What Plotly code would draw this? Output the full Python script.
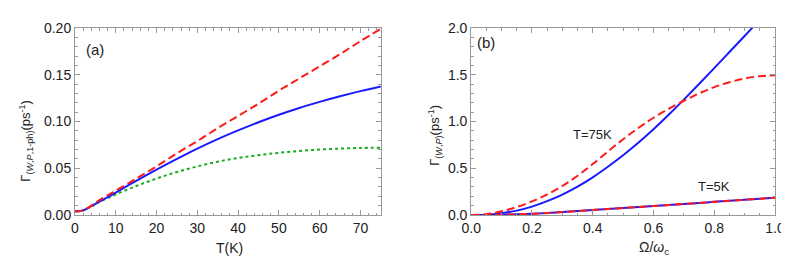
import plotly.graph_objects as go

# ---- panel (a) data ----
T_K = [0, 1, 2, 3, 4, 5, 6, 8, 10, 15, 20, 25, 30, 35, 40, 45, 50, 55, 60, 65, 70, 75]
gamma_red_a = [0.004, 0.004, 0.005, 0.007, 0.010, 0.013, 0.016, 0.021, 0.026, 0.039, 0.052, 0.066,
               0.079, 0.093, 0.106, 0.119, 0.133, 0.146, 0.159, 0.172, 0.186, 0.199]
gamma_blue_a = [0.004, 0.004, 0.005, 0.007, 0.0095, 0.012, 0.0145, 0.019, 0.024, 0.0365, 0.0485, 0.060,
                0.071, 0.0812, 0.0905, 0.0992, 0.1072, 0.1145, 0.121, 0.127, 0.1325, 0.1375]
gamma_green_a = [0.004, 0.004, 0.005, 0.007, 0.009, 0.0115, 0.014, 0.018, 0.022, 0.031, 0.039, 0.046,
                 0.052, 0.057, 0.061, 0.064, 0.0665, 0.0685, 0.070, 0.071, 0.0717, 0.072]

# ---- panel (b) data ----
omega = [0, 0.05, 0.1, 0.15, 0.2, 0.25, 0.3, 0.35, 0.4, 0.45, 0.5, 0.55, 0.6, 0.65, 0.7, 0.75,
         0.8, 0.85, 0.9, 0.95, 1.0]
blue_75K = [0, 0.004, 0.02, 0.047, 0.09, 0.148, 0.218, 0.303, 0.403, 0.516, 0.639, 0.772, 0.917,
            1.072, 1.234, 1.401, 1.571, 1.743, 1.915, 2.087, 2.259]
red_75K = [0, 0.01, 0.04, 0.085, 0.145, 0.22, 0.31, 0.42, 0.545, 0.68, 0.81, 0.93, 1.04, 1.135,
           1.222, 1.30, 1.368, 1.42, 1.46, 1.485, 1.495]
blue_5K = [0, 0.001, 0.003, 0.007, 0.013, 0.021, 0.031, 0.042, 0.053, 0.064, 0.075, 0.085, 0.096,
           0.107, 0.118, 0.129, 0.141, 0.152, 0.163, 0.174, 0.185]
red_5K = [0, 0.001, 0.003, 0.007, 0.013, 0.021, 0.031, 0.042, 0.053, 0.064, 0.075, 0.085, 0.096,
          0.107, 0.118, 0.129, 0.141, 0.152, 0.163, 0.174, 0.185]

RED = "#ff1a1a"
BLUE = "#1a1aff"
GREEN = "#1aaa1a"
DASH = "8px,4px"

fig = go.Figure()
fig.add_trace(go.Scatter(x=T_K, y=gamma_green_a, mode="lines",
                         line=dict(color=GREEN, width=2, dash="3px,3px", shape="spline"), xaxis="x", yaxis="y"))
fig.add_trace(go.Scatter(x=T_K, y=gamma_blue_a, mode="lines",
                         line=dict(color=BLUE, width=2, shape="spline"), xaxis="x", yaxis="y"))
fig.add_trace(go.Scatter(x=T_K, y=gamma_red_a, mode="lines",
                         line=dict(color=RED, width=2, dash=DASH, shape="spline"), xaxis="x", yaxis="y"))

fig.add_trace(go.Scatter(x=omega, y=blue_75K, mode="lines",
                         line=dict(color=BLUE, width=2, shape="spline"), xaxis="x2", yaxis="y2"))
fig.add_trace(go.Scatter(x=omega, y=blue_5K, mode="lines",
                         line=dict(color=BLUE, width=2, shape="spline"), xaxis="x2", yaxis="y2"))
fig.add_trace(go.Scatter(x=omega, y=red_75K, mode="lines",
                         line=dict(color=RED, width=2, dash=DASH, shape="spline"), xaxis="x2", yaxis="y2"))
fig.add_trace(go.Scatter(x=omega, y=red_5K, mode="lines",
                         line=dict(color=RED, width=2, dash=DASH, shape="spline"), xaxis="x2", yaxis="y2"))

FONT = "Liberation Sans, Arial, sans-serif"
FRAME = "#999999"
common = dict(showline=True, linecolor=FRAME, linewidth=1, mirror="ticks", ticks="inside",
              ticklen=5, tickcolor=FRAME, showgrid=False, zeroline=False,
              tickfont=dict(family=FONT, size=14, color="#222"))

fig.update_layout(
    width=789, height=259,
    margin=dict(l=67, r=17, t=19, b=52),
    paper_bgcolor="white", plot_bgcolor="white",
    showlegend=False,
    font=dict(family=FONT, size=14, color="#222"),
    xaxis=dict(domain=[0, 0.4369], range=[0, 75], dtick=10, anchor="y",
               minor=dict(ticks="inside", ticklen=2.5, dtick=2, tickcolor=FRAME), **common),
    yaxis=dict(domain=[0, 1], range=[0, 0.2], dtick=0.05, tickformat=".2f", anchor="x",
               minor=dict(ticks="inside", ticklen=2.5, dtick=0.01, tickcolor=FRAME), **common),
    xaxis2=dict(domain=[0.566, 1], range=[0, 1], dtick=0.2, tickformat=".1f", anchor="y2",
                minor=dict(ticks="inside", ticklen=2.5, dtick=0.05, tickcolor=FRAME), **common),
    yaxis2=dict(domain=[0, 1], range=[0, 2], dtick=0.5, tickformat=".1f", anchor="x2",
                minor=dict(ticks="inside", ticklen=2.5, dtick=0.1, tickcolor=FRAME), **common),
)

panel_labels = [("(a)", 87, 41), ("(b)", 481, 34)]
annotations = []
for text, px, py in panel_labels:
    annotations.append(dict(text=text, xref="paper", yref="paper",
                            x=(px - 67) / 705, y=(207 - py) / 188,
                            xanchor="center", yanchor="middle", showarrow=False,
                            font=dict(family=FONT, size=15, color="#222")))
annotations.append(dict(text="T=75K", x=0.40, y=0.86, xref="x2", yref="y2", showarrow=False,
                        font=dict(family=FONT, size=13, color="#222")))
annotations.append(dict(text="T=5K", x=0.80, y=0.31, xref="x2", yref="y2", showarrow=False,
                        font=dict(family=FONT, size=13, color="#222")))
annotations.append(dict(text="T(K)", xref="paper", yref="paper", x=(223 - 67) / 705, y=(207 - 240) / 188,
                        showarrow=False, xanchor="center", yanchor="middle",
                        font=dict(family=FONT, size=14, color="#222")))
annotations.append(dict(text="Ω/<i>ω</i><sub>c</sub>", xref="paper", yref="paper", x=(650 - 67) / 705,
                        y=(207 - 240) / 188, showarrow=False, xanchor="center", yanchor="middle",
                        font=dict(family=FONT, size=14, color="#222")))
annotations.append(dict(text="Γ<sub>(<i>W</i>,<i>P</i>,1-ph)</sub>(ps<sup>-1</sup>)", xref="paper", yref="paper",
                        x=(18 - 67) / 705, y=(207 - 132) / 188, textangle=-90, showarrow=False,
                        xanchor="center", yanchor="middle", font=dict(family=FONT, size=13, color="#222")))
annotations.append(dict(text="Γ<sub>(<i>W</i>,<i>P</i>)</sub>(ps<sup>-1</sup>)", xref="paper", yref="paper",
                        x=(430 - 67) / 705, y=(207 - 127) / 188, textangle=-90, showarrow=False,
                        xanchor="center", yanchor="middle", font=dict(family=FONT, size=13, color="#222")))
fig.update_layout(annotations=annotations)

fig.write_html("out.html")
